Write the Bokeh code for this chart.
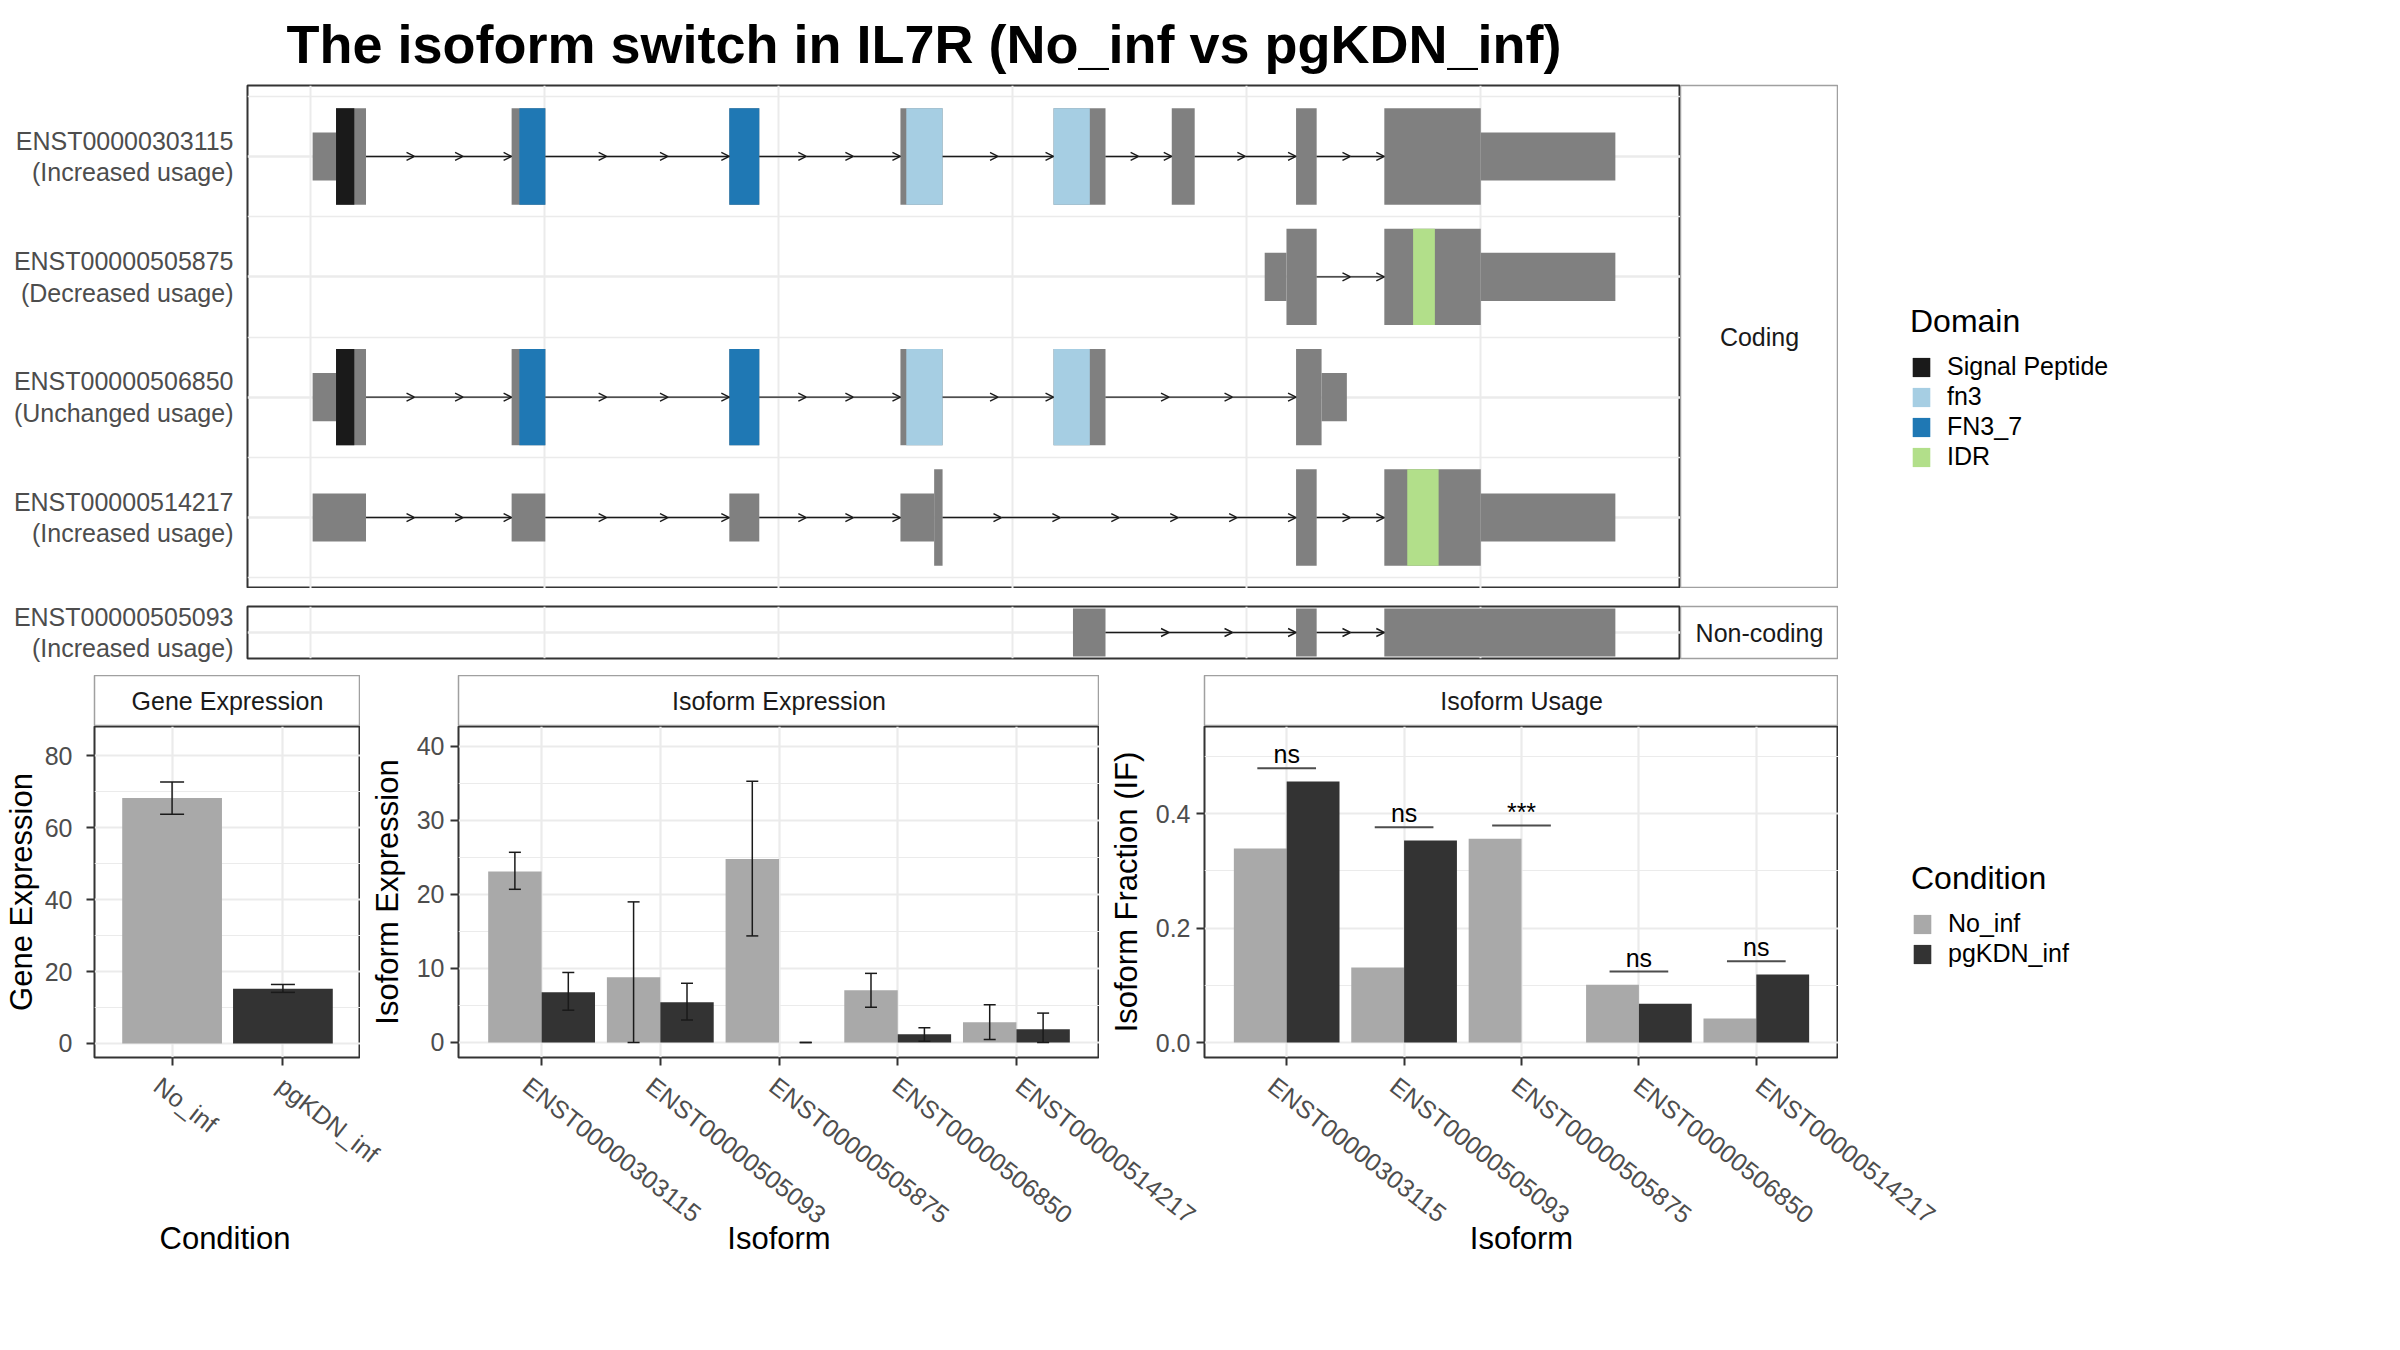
import math
from bokeh.plotting import figure
from bokeh.models import (Range1d, FactorRange, FixedTicker, ColumnDataSource, Whisker, TeeHead,
                          Arrow, OpenHead, Legend, LegendItem, PrintfTickFormatter, Spacer,
                          CustomLabelingPolicy)
from bokeh.layouts import row, column
from bokeh.transform import dodge
from bokeh.core.properties import value
from bokeh.embed import file_html
from bokeh.resources import INLINE

# ---------------- data ----------------
plot_title = "The isoform switch in IL7R (No_inf vs pgKDN_inf)"

coding_ids = ["ENST00000303115", "ENST00000505875", "ENST00000506850", "ENST00000514217"]
coding_status = ["Increased usage", "Decreased usage", "Unchanged usage", "Increased usage"]
noncoding_ids = ["ENST00000505093"]
noncoding_status = ["Increased usage"]

# exon pieces (start, end, kind) on a rescaled genomic axis
exons_303115 = [(0.010, 0.110, "UTR"), (0.110, 0.238, "CDS"), (0.860, 1.004, "CDS"),
                (1.790, 1.918, "CDS"), (2.521, 2.701, "CDS"), (3.175, 3.397, "CDS"),
                (3.680, 3.778, "CDS"), (4.211, 4.299, "CDS"), (4.588, 5.000, "CDS"),
                (5.000, 5.575, "UTR")]
exons_505875 = [(4.077, 4.170, "UTR"), (4.170, 4.299, "CDS"), (4.588, 5.000, "CDS"),
                (5.000, 5.575, "UTR")]
exons_506850 = [(0.010, 0.110, "UTR"), (0.110, 0.238, "CDS"), (0.860, 1.004, "CDS"),
                (1.790, 1.918, "CDS"), (2.521, 2.701, "CDS"), (3.175, 3.397, "CDS"),
                (4.211, 4.320, "CDS"), (4.320, 4.428, "UTR")]
exons_514217 = [(0.010, 0.238, "UTR"), (0.860, 1.004, "UTR"), (1.790, 1.918, "UTR"),
                (2.521, 2.665, "UTR"), (2.665, 2.701, "CDS"), (4.211, 4.299, "CDS"),
                (4.588, 5.000, "CDS"), (5.000, 5.575, "UTR")]
exons_505093 = [(3.258, 3.397, "UTR"), (4.211, 4.299, "UTR"), (4.588, 5.575, "UTR")]

domains_303115 = [(0.110, 0.188, "Signal Peptide"), (0.893, 1.004, "FN3_7"),
                  (1.790, 1.918, "FN3_7"), (2.546, 2.701, "fn3"), (3.175, 3.330, "fn3")]
domains_505875 = [(4.711, 4.804, "IDR")]
domains_506850 = [(0.110, 0.188, "Signal Peptide"), (0.893, 1.004, "FN3_7"),
                  (1.790, 1.918, "FN3_7"), (2.546, 2.701, "fn3"), (3.175, 3.330, "fn3")]
domains_514217 = [(4.686, 4.820, "IDR")]
domains_505093 = []

domain_names = ["Signal Peptide", "fn3", "FN3_7", "IDR"]
domain_colors = ["#1A1A1A", "#A6CEE3", "#1F78B4", "#B2DF8A"]

conditions = ["No_inf", "pgKDN_inf"]
condition_colors = ["#A9A9A9", "#333333"]

gene_expr = [68.25, 15.2]
gene_lo = [63.7, 14.2]
gene_hi = [72.7, 16.4]

isoforms = ["ENST00000303115", "ENST00000505093", "ENST00000505875",
            "ENST00000506850", "ENST00000514217"]
iso_expr_no = [23.1, 8.8, 24.8, 7.05, 2.74]
iso_expr_no_lo = [20.7, 0.0, 14.4, 4.76, 0.39]
iso_expr_no_hi = [25.7, 19.0, 35.3, 9.34, 5.1]
iso_expr_pg = [6.8, 5.45, 0.0, 1.12, 1.79]
iso_expr_pg_lo = [4.36, 3.05, 0.0, 0.17, 0.0]
iso_expr_pg_hi = [9.46, 8.0, 0.0, 2.0, 3.97]

iso_if_no = [0.339, 0.131, 0.356, 0.101, 0.042]
iso_if_pg = [0.456, 0.353, 0.0, 0.068, 0.119]
iso_sig = ["ns", "ns", "***", "ns", "ns"]

# ---------------- style ----------------
FONT = "Liberation Sans"
GRID = "#EBEBEB"
TICKLAB = "#4D4D4D"
BORDER = "#333333"
STRIPB = "#A0A0A0"
EXON_GRAY = "#808080"
ERR = "#1A1A1A"
THICK = 0.4
THIN = 0.2
ARROW_STEP = 0.275
TICK_FS = "25px"
TITLE_FS = "31px"
LABEL_ANGLE = -math.radians(38)
LABEL_SHIFT = 0.05    # category units: rotated labels start slightly left of their tick
CAT_PAD = 0.6         # ggplot discrete expansion on each side

all_x = [v for ex in (exons_303115, exons_505875, exons_506850, exons_514217, exons_505093)
         for s, e, _ in ex for v in (s, e)]
xpad = (max(all_x) - min(all_x)) * 0.05
XMIN, XMAX = min(all_x) - xpad, max(all_x) + xpad
dcol = dict(zip(domain_names, domain_colors))

NO_LABELS = CustomLabelingPolicy(code="""
const all = [...indices]
for (const i of all) indices.unset(i)
return indices
""")


def base_fig(**kw):
    return figure(output_backend="svg", toolbar_location=None,
                  background_fill_color="white", border_fill_color="white", **kw)


def hide_guides(p):
    p.xaxis.visible = False
    p.yaxis.visible = False
    p.xgrid.visible = False
    p.ygrid.visible = False


def style_axis(ax, tick_out=8):
    ax.axis_line_color = None
    ax.major_tick_out = tick_out
    ax.major_tick_in = 0
    ax.minor_tick_out = 0
    ax.minor_tick_in = 0
    ax.major_tick_line_color = BORDER
    ax.major_tick_line_width = 2
    ax.major_label_text_font = FONT
    ax.major_label_text_font_size = TICK_FS
    ax.major_label_text_color = TICKLAB
    ax.axis_label_text_font = FONT
    ax.axis_label_text_font_size = TITLE_FS
    ax.axis_label_text_font_style = "normal"
    ax.axis_label_text_color = "black"


def tx_fig(ids, status, exon_sets, domain_sets, height, top, bottom, yr, title=None):
    p = base_fig(width=1672, height=height, x_range=Range1d(XMIN, XMAX), y_range=Range1d(*yr),
                 min_border_left=239, min_border_right=0, min_border_top=top,
                 min_border_bottom=bottom)
    if title:
        p.title.text = title
        p.title.text_font = FONT
        p.title.text_font_size = "54px"
        p.title.text_font_style = "bold"
        p.title.text_color = "black"
        p.title.offset = 39
        p.title.standoff = 23
    p.outline_line_color = BORDER
    p.outline_line_width = 2
    p.xaxis.visible = False
    p.xgrid.ticker = FixedTicker(ticks=[0, 1, 2, 3, 4, 5])
    p.xgrid.grid_line_color = GRID
    p.xgrid.grid_line_width = 2
    rows = list(range(1, len(ids) + 1))
    t = FixedTicker(ticks=rows, minor_ticks=[r - 0.5 for r in rows] + [rows[-1] + 0.5])
    p.yaxis.ticker = t
    p.ygrid.ticker = t
    p.ygrid.grid_line_color = GRID
    p.ygrid.grid_line_width = 2.5
    p.ygrid.minor_grid_line_color = GRID
    p.ygrid.minor_grid_line_width = 1.5
    style_axis(p.yaxis[0], tick_out=0)
    p.yaxis.major_label_standoff = 14
    p.yaxis.major_label_text_line_height = 1.12
    p.yaxis.major_label_overrides = {r: f"{i}\n({s})" for r, i, s in zip(rows, ids, status)}

    xs, xe, ys = [], [], []
    L, R, T, B, C = [], [], [], [], []
    for r, ex, doms in zip(rows, exon_sets, domain_sets):
        pieces = sorted(ex)
        for a, b in zip(pieces[:-1], pieces[1:]):
            gap = b[0] - a[1]
            if gap > 1e-6:
                k = math.ceil(gap / ARROW_STEP)
                for j in range(k):
                    xs.append(a[1] + gap * j / k)
                    xe.append(a[1] + gap * (j + 1) / k)
                    ys.append(r)
        for s, e, kind in ex:
            h = THICK if kind == "CDS" else THIN
            L.append(s); R.append(e); T.append(r - h); B.append(r + h); C.append(EXON_GRAY)
        for s, e, name in doms:
            L.append(s); R.append(e); T.append(r - THICK); B.append(r + THICK); C.append(dcol[name])
    asrc = ColumnDataSource(dict(xs=xs, xe=xe, ys=ys))
    p.add_layout(Arrow(end=OpenHead(size=8, line_color="#1A1A1A", line_width=1.4),
                       x_start="xs", y_start="ys", x_end="xe", y_end="ys", source=asrc,
                       line_color="#1A1A1A", line_width=1.4))
    p.quad(left=L, right=R, top=T, bottom=B, fill_color=C, line_color=None)
    return p


def strip_fig(width, height, left, top, bottom, label):
    p = base_fig(width=width, height=height, x_range=Range1d(0, 1), y_range=Range1d(0, 1),
                 min_border_left=left, min_border_right=0, min_border_top=top,
                 min_border_bottom=bottom)
    hide_guides(p)
    p.outline_line_color = STRIPB
    p.outline_line_width = 1.5
    p.text(x=[0.5], y=[0.5], text=[label], text_align="center", text_baseline="middle",
           text_font=value(FONT), text_font_size="25px", text_color="#1A1A1A")
    return p


def legend_fig(width, height, left, title, names, colors):
    p = base_fig(width=width, height=height, x_range=Range1d(0, 1), y_range=Range1d(0, 1),
                 min_border_left=left, min_border_right=0, min_border_top=0,
                 min_border_bottom=0)
    hide_guides(p)
    p.outline_line_color = None
    items = []
    for n, c in zip(names, colors):
        # one point placed outside the visible range: only its legend swatch is shown
        r = p.rect(x=[-10], y=[-10], width=0.1, height=0.1, fill_color=c, line_color=None)
        items.append(LegendItem(label=n, renderers=[r]))
    leg = Legend(items=items, title=title, location="top_left", margin=0, padding=0,
                 spacing=1, glyph_width=22, glyph_height=24, label_height=24,
                 label_standoff=15, border_line_color=None, background_fill_alpha=0,
                 label_text_font=FONT, label_text_font_size="25px", label_text_color="black",
                 title_text_font=FONT, title_text_font_size="32px",
                 title_text_font_style="normal", title_text_color="black", title_standoff=12)
    p.add_layout(leg)
    return p


def bar_fig(width, left, xr, yr, ticks, minor, ylabel, lstand, ystand):
    p = base_fig(width=width, height=341, x_range=xr, y_range=Range1d(*yr),
                 min_border_left=left, min_border_right=0, min_border_top=0,
                 min_border_bottom=10)
    p.outline_line_color = BORDER
    p.outline_line_width = 2
    t = FixedTicker(ticks=ticks, minor_ticks=minor)
    p.yaxis.ticker = t
    p.ygrid.ticker = t
    p.ygrid.grid_line_color = GRID
    p.ygrid.grid_line_width = 2.2
    p.ygrid.minor_grid_line_color = GRID
    p.ygrid.minor_grid_line_width = 1.2
    p.xgrid.grid_line_color = GRID
    p.xgrid.grid_line_width = 2.2
    style_axis(p.xaxis[0])
    # tick marks only here (labels filtered out); rotated tick labels live in the axis strip
    p.xaxis.major_label_policy = NO_LABELS
    p.xaxis.major_label_text_font_size = "0px"
    p.xaxis.major_label_standoff = 0
    style_axis(p.yaxis[0])
    p.yaxis.major_label_standoff = lstand
    p.yaxis.axis_label = ylabel
    p.yaxis.axis_label_standoff = ystand
    return p


def axis_fig(width, left, right, factors, xlabel, xstand):
    # tick labels + title of a panel's categorical x axis; category k sits at position k
    n = len(factors)
    xr = Range1d(1 - CAT_PAD + LABEL_SHIFT, n + CAT_PAD + LABEL_SHIFT)
    p = base_fig(width=width, height=275, x_range=xr, y_range=Range1d(0, 1),
                 min_border_left=left, min_border_right=right, min_border_top=0,
                 min_border_bottom=274)
    p.outline_line_color = None
    p.yaxis.visible = False
    p.xgrid.visible = False
    p.ygrid.visible = False
    style_axis(p.xaxis[0], tick_out=0)
    p.xaxis.ticker = FixedTicker(ticks=list(range(1, n + 1)), minor_ticks=[])
    p.xaxis.major_label_overrides = {k: f for k, f in zip(range(1, n + 1), factors)}
    p.xaxis.major_label_orientation = LABEL_ANGLE
    p.xaxis.major_label_standoff = 14
    p.xaxis.axis_label = xlabel
    p.xaxis.axis_label_standoff = xstand
    return p


def whisker(p, base, lo, hi, src, size):
    w = Whisker(base=base, upper=hi, lower=lo, source=src, level="annotation",
                line_color=ERR, line_width=1.5,
                upper_head=TeeHead(size=size, line_color=ERR, line_width=1.5),
                lower_head=TeeHead(size=size, line_color=ERR, line_width=1.5))
    p.add_layout(w)


# ---------------- top: transcripts ----------------
p_tx = tx_fig(coding_ids, coding_status,
              [exons_303115, exons_505875, exons_506850, exons_514217],
              [domains_303115, domains_505875, domains_506850, domains_514217],
              height=588, top=85, bottom=0, yr=(4.59, 0.41), title=plot_title)
s_coding = strip_fig(158, 588, 0, 85, 0, "Coding")
l_domain = legend_fig(554, 285, 72, "Domain", domain_names, domain_colors)

p_nc = tx_fig(noncoding_ids, noncoding_status, [exons_505093], [domains_505093],
              height=87, top=18, bottom=17, yr=(1.217, 0.783))
s_nc = strip_fig(158, 87, 0, 18, 17, "Non-coding")

# ---------------- bottom: gene expression ----------------
xr_gene = FactorRange(factors=conditions, range_padding=2 * (CAT_PAD - 0.5),
                      range_padding_units="absolute")
p_gene = bar_fig(360, 89, xr_gene, (-3.9, 88.1), [0, 20, 40, 60, 80], [10, 30, 50, 70],
                 "Gene Expression", 14, 3)
gsrc = ColumnDataSource(dict(cond=conditions, val=gene_expr, lo=gene_lo, hi=gene_hi,
                             col=condition_colors))
p_gene.vbar(x="cond", top="val", bottom=0, width=0.9, fill_color="col", line_color=None,
            source=gsrc)
whisker(p_gene, "cond", "lo", "hi", gsrc, 24)
st_gene = strip_fig(360, 51, 89, 0, 0, "Gene Expression")
ax_gene = axis_fig(458, 89, 98, conditions, "Condition", 39)

# ---------------- bottom: isoform expression ----------------
xr_iso = FactorRange(factors=isoforms, range_padding=2 * (CAT_PAD - 0.5),
                     range_padding_units="absolute")
p_iso = bar_fig(739, 98, xr_iso, (-2.03, 42.7), [0, 10, 20, 30, 40], [5, 15, 25, 35],
                "Isoform Expression", 6, 9)
isrc = ColumnDataSource(dict(iso=isoforms, no=iso_expr_no, no_lo=iso_expr_no_lo,
                             no_hi=iso_expr_no_hi, pg=iso_expr_pg, pg_lo=iso_expr_pg_lo,
                             pg_hi=iso_expr_pg_hi))
p_iso.vbar(x=dodge("iso", -0.225, range=xr_iso), top="no", bottom=0, width=0.45,
           fill_color=condition_colors[0], line_color=None, source=isrc)
p_iso.vbar(x=dodge("iso", 0.225, range=xr_iso), top="pg", bottom=0, width=0.45,
           fill_color=condition_colors[1], line_color=None, source=isrc)
whisker(p_iso, dodge("iso", -0.225, range=xr_iso), "no_lo", "no_hi", isrc, 12)
whisker(p_iso, dodge("iso", 0.225, range=xr_iso), "pg_lo", "pg_hi", isrc, 12)
st_iso = strip_fig(739, 51, 98, 0, 0, "Isoform Expression")
ax_iso = axis_fig(746, 0, 105, isoforms, "Isoform", -22)

# ---------------- bottom: isoform usage ----------------
xr_use = FactorRange(factors=isoforms, range_padding=2 * (CAT_PAD - 0.5),
                     range_padding_units="absolute")
p_use = bar_fig(739, 105, xr_use, (-0.026, 0.552), [0.0, 0.2, 0.4], [0.1, 0.3, 0.5],
                "Isoform Fraction (IF)", 6, 9)
p_use.yaxis.formatter = PrintfTickFormatter(format="%.1f")
usrc = ColumnDataSource(dict(iso=isoforms, no=iso_if_no, pg=iso_if_pg, lab=iso_sig,
                             sy=[max(a, b) + 0.023 for a, b in zip(iso_if_no, iso_if_pg)]))
p_use.vbar(x=dodge("iso", -0.225, range=xr_use), top="no", bottom=0, width=0.45,
           fill_color=condition_colors[0], line_color=None, source=usrc)
p_use.vbar(x=dodge("iso", 0.225, range=xr_use), top="pg", bottom=0, width=0.45,
           fill_color=condition_colors[1], line_color=None, source=usrc)
p_use.segment(x0=dodge("iso", -0.25, range=xr_use), x1=dodge("iso", 0.25, range=xr_use),
              y0="sy", y1="sy", line_color="#4D4D4D", line_width=2, source=usrc)
p_use.text(x="iso", y="sy", text="lab", text_align="center", text_baseline="bottom",
           y_offset=0, text_font=value(FONT), text_font_size="25px", text_color="black",
           source=usrc)
st_use = strip_fig(739, 51, 105, 0, 0, "Isoform Usage")
ax_use = axis_fig(1188, 0, 554, isoforms, "Isoform", -22)

l_cond = legend_fig(554, 207, 73, "Condition", conditions, condition_colors)

layout = column(
    row(Spacer(width=8, height=588), p_tx, s_coding,
        column(Spacer(width=554, height=303), l_domain)),
    row(Spacer(width=8, height=87), p_nc, s_nc, Spacer(width=554, height=87)),
    row(column(st_gene, p_gene), column(st_iso, p_iso), column(st_use, p_use),
        column(Spacer(width=554, height=185), l_cond)),
    row(ax_gene, ax_iso, ax_use),
)

open("out.html", "w").write(file_html(layout, INLINE))
